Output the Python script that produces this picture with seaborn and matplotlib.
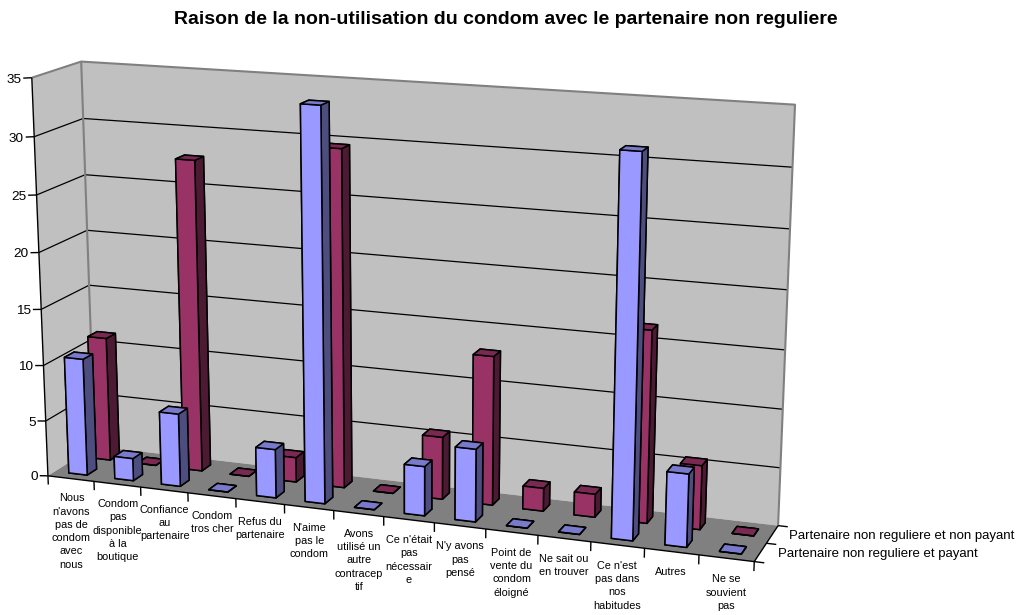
import numpy as np
import matplotlib
matplotlib.use("Agg")
import matplotlib.pyplot as plt
import seaborn as sns
from mpl_toolkits.mplot3d import proj3d
from mpl_toolkits.mplot3d.art3d import Poly3DCollection, Line3DCollection

categories = ["Nous\nn'avons\npas de\ncondom\navec\nnous", "Condom\npas\ndisponible\nà la\nboutique",
              "Confiance\nau\npartenaire", "Condom\ntros cher", "Refus du\npartenaire",
              "N'aime\npas le\ncondom", "Avons\nutilisé un\nautre\ncontracep\ntif",
              "Ce n'était\npas\nnécessair\ne", "N'y avons\npas\npensé", "Point de\nvente du\ncondom\néloigné",
              "Ne sait ou\nen trouver", "Ce n'est\npas dans\nnos\nhabitudes", "Autres", "Ne se\nsouvient\npas"]
payant = [10.5, 2, 6.5, 0, 4.3, 34, 0, 4.3, 6.3, 0, 0, 32, 6.2, 0]
non_payant = [11.2, 0, 27.7, 0, 2.2, 29.6, 0, 5.5, 13, 2, 2, 16.5, 5.5, 0]
series_names = ["Partenaire non reguliere et payant", "Partenaire non reguliere et non payant"]
yticks = [0, 5, 10, 15, 20, 25, 30, 35]

sns.set_theme(style="white", rc={"font.family": ["Liberation Sans", "DejaVu Sans"]})
palette = sns.color_palette(["#9999FF", "#993366"])
top_colors = ["#7A7ACC", "#7A2952"]
side_colors = ["#4D4D80", "#4D1A33"]

# where the chart box corners sit on the picture, used to fit the camera
world = [(0, 0, 0), (0, 0, 35), (0, 2, 0), (0, 2, 35), (14, 2, 0), (14, 2, 35), (14, 0, 0), (5, 0, 0), (12, 0, 0)]
pixel = [(48, 475), (32, 78), (95, 447), (81, 61), (778, 525), (795, 105), (755, 562), (284, 505), (644, 548)]

rows = []
for (x, y, z), (u, v) in zip(world, pixel):
    rows.append([x, y, z, 1, 0, 0, 0, 0, -u * x, -u * y, -u * z, -u])
    rows.append([0, 0, 0, 0, x, y, z, 1, -v * x, -v * y, -v * z, -v])
P = np.linalg.svd(np.array(rows, dtype=float))[2][-1].reshape(3, 4)
P = P / P[2, 3]
# third row is only a depth for sorting faces: left, back and low means far
M = np.array([P[0], P[1], [-0.1, 1, -0.1, 1], P[2]])

fig = plt.figure(figsize=(10.21, 6.15), dpi=100)
ax = fig.add_axes([0, 0, 1, 1], projection="3d", computed_zorder=False)
ax.set_axis_off()
ax.get_proj = lambda: M
ax.apply_aspect = lambda position=None: None


def draw_line(points, color, lw, zorder):
    ax.add_collection3d(Line3DCollection([points], colors=color, linewidths=lw, zorder=zorder))


def draw_text(x, y, z, s, **kwargs):
    u, v, _ = proj3d.proj_transform(x, y, z, M)
    ax.text2D(u, v, s, transform=ax.transData, color="black", **kwargs)


# walls and floor
nx = len(categories)
ax.add_collection3d(Poly3DCollection([[(0, 0, 0), (0, 2, 0), (0, 2, 35), (0, 0, 35)],
                                      [(0, 2, 0), (nx, 2, 0), (nx, 2, 35), (0, 2, 35)]],
                                     facecolor="#C0C0C0", edgecolor="none", zorder=1))
ax.add_collection3d(Poly3DCollection([[(0, 0, 0), (nx, 0, 0), (nx, 2, 0), (0, 2, 0)]],
                                     facecolor="#808080", edgecolor="none", zorder=1))
for v in yticks[1:-1]:
    draw_line([(0, 0, v), (0, 2, v), (nx, 2, v)], "black", 0.9, 2)
draw_line([(0, 0, 35), (0, 2, 35), (nx, 2, 35), (nx, 2, 0)], "#808080", 1.5, 2)
draw_line([(0, 2, 0), (0, 2, 35)], "#808080", 1.5, 2)

# bars, back row first then left to right
z = 10
for row, values in [(1, non_payant), (0, payant)]:
    faces = [top_colors[row], top_colors[row], palette[row], palette[row], side_colors[row], side_colors[row]]
    for i, val in enumerate(values):
        z += 1
        ax.bar3d(i + 0.3, row + 0.3, 0, 0.4, 0.4, val, color=faces, edgecolor="black",
                 linewidth=1.1, shade=False, zorder=z)

# axes lines, ticks and labels
z += 1
draw_line([(0, 0, 0), (0, 0, 35)], "black", 1, z)
draw_line([(0, 0, 0), (nx, 0, 0), (nx, 2, 0)], "black", 1, z)
for v in yticks:
    draw_line([(-0.18, 0, v - 0.08), (0, 0, v)], "black", 1, z)
    draw_text(-0.22, 0, v - 0.25, str(v), ha="right", va="center", fontsize=9.7)
for i in range(nx + 1):
    draw_line([(i, 0, 0), (i, 0, -0.8)], "black", 1, z)
for i, name in enumerate(categories):
    draw_text(i + 0.5, 0, -1.35, name, ha="center", va="top", fontsize=7.8, linespacing=1.41)
for y in range(3):
    draw_line([(nx, y, 0), (nx + 0.18, y, 0)], "black", 1, z)
for y, name in zip([0.5, 1.5], series_names):
    draw_text(nx + 0.31, y, 0, name, ha="left", va="center", fontsize=9.5)

fig.suptitle("Raison de la non-utilisation du condom avec le partenaire non reguliere",
             x=0.4955, y=1 - 20 / 615, va="center", fontsize=14, fontweight="bold", color="black")

# picture pixels as the 2D limits of the axes
ax.viewLim.intervalx = (0, 1021)
ax.viewLim.intervaly = (615, 0)

fig.savefig("out.png", dpi=100)
